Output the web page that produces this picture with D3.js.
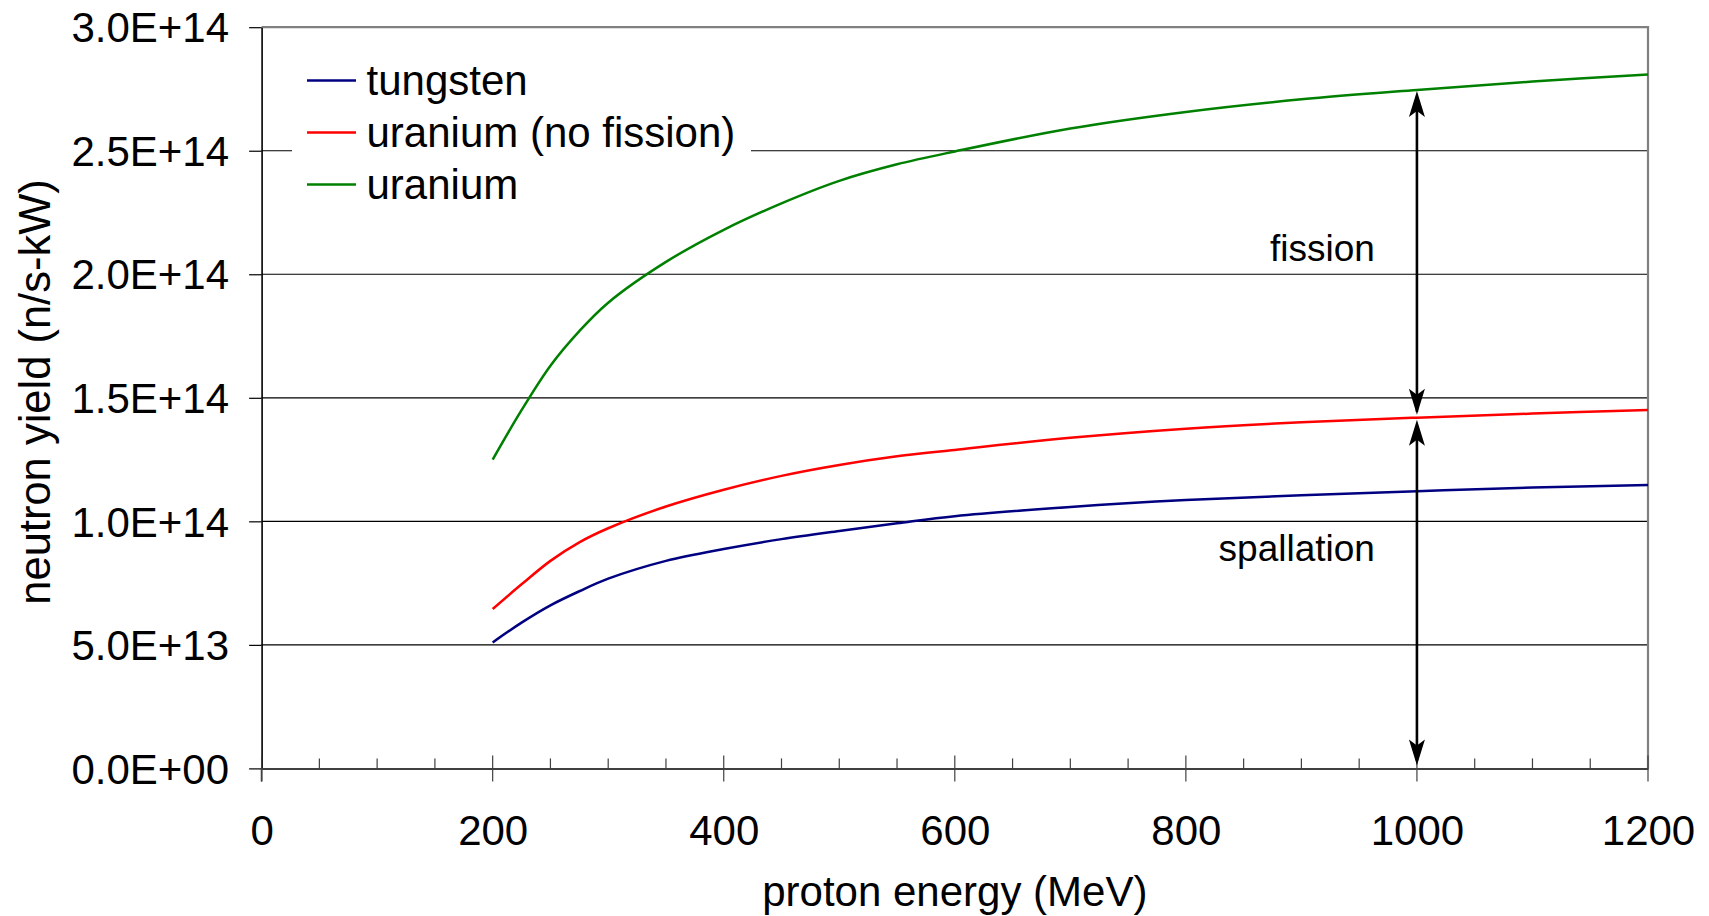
<!DOCTYPE html>
<html>
<head>
<meta charset="utf-8">
<script src="https://cdn.jsdelivr.net/npm/d3@7/dist/d3.min.js"></script>
<style>
  html, body { margin: 0; padding: 0; background: #fff; }
  svg { display: block; font-family: "Liberation Sans", Arial, sans-serif; }
</style>
</head>
<body>
<svg id="chart" width="1709" height="916"></svg>
<script>
// ---- data ----
const energies = [200, 225, 250, 275, 300, 350, 400, 450, 500, 550, 600, 700, 800, 900, 1000, 1100, 1200];
const tungsten = [0.510, 0.590, 0.660, 0.717, 0.768, 0.840, 0.888, 0.928, 0.961, 0.992, 1.021, 1.058, 1.086, 1.106, 1.122, 1.137, 1.147].map(v => v * 1e14);
const uraniumNoFission = [0.645, 0.745, 0.840, 0.915, 0.972, 1.060, 1.128, 1.184, 1.228, 1.263, 1.289, 1.338, 1.375, 1.401, 1.4195, 1.436, 1.451].map(v => v * 1e14);
const uranium = [1.250, 1.450, 1.630, 1.770, 1.885, 2.050, 2.180, 2.287, 2.378, 2.445, 2.497, 2.590, 2.657, 2.708, 2.746, 2.780, 2.809].map(v => v * 1e14);
const seriesNames = ["tungsten", "uranium (no fission)", "uranium"];
const seriesColors = ["#000080", "#FF0000", "#008000"];
const xTicks = [0, 200, 400, 600, 800, 1000, 1200];
const xMinorTicks = d3.range(0, 1201, 50);
const yTicks = [0, 5e13, 1e14, 1.5e14, 2e14, 2.5e14, 3e14];
const yTickLabels = ["0.0E+00", "5.0E+13", "1.0E+14", "1.5E+14", "2.0E+14", "2.5E+14", "3.0E+14"];
const arrowEnergy = 1000;
const annotations = ["fission", "spallation"];
const xTitle = "proton energy (MeV)";
const yTitle = "neutron yield (n/s-kW)";

// ---- layout ----
const svg = d3.select("#chart");
const L = 261.6, R = 1648, T = 27.2, B = 768.4;
const x = d3.scaleLinear().domain([0, 1200]).range([L, R]);
const y = d3.scaleLinear().domain([0, 3e14]).range([B, T]);

// gridlines
svg.append("g").selectAll("line").data(yTicks.slice(1, -1)).join("line")
  .attr("x1", L).attr("x2", R).attr("y1", d => y(d)).attr("y2", d => y(d))
  .attr("stroke", "#000").attr("stroke-width", 1.2);

// plot border (top and right, grey)
svg.append("path")
  .attr("d", `M${L},${y(3e14)}H${R}V${B}`)
  .attr("fill", "none").attr("stroke", "#808080").attr("stroke-width", 2.2);

// y axis
const yAxis = d3.axisLeft(y).tickValues(yTicks).tickSize(12.5).tickSizeOuter(0)
  .tickFormat((d, i) => yTickLabels[i]);
const gy = svg.append("g").attr("transform", `translate(${L},0)`).call(yAxis);
gy.select(".domain").attr("stroke", "#000").attr("stroke-width", 1.6);
gy.selectAll(".tick line").attr("stroke", "#000").attr("stroke-width", 1.2);
gy.selectAll(".tick text").attr("font-size", 42).attr("fill", "#000")
  .attr("x", -32.5).attr("dy", "0.35em").attr("font-family", "Liberation Sans, Arial, sans-serif");
// left axis extension below x axis
svg.append("line").attr("x1", L).attr("x2", L).attr("y1", B).attr("y2", B + 13)
  .attr("stroke", "#000").attr("stroke-width", 1.6);

// x axis minor ticks (inside, upward)
svg.append("g").selectAll("line").data(xMinorTicks.filter(d => d % 200 !== 0)).join("line")
  .attr("x1", d => x(d)).attr("x2", d => x(d)).attr("y1", B).attr("y2", B - 10)
  .attr("stroke", "#404040").attr("stroke-width", 1.2);
// x axis major ticks (cross)
svg.append("g").selectAll("line").data(xTicks).join("line")
  .attr("x1", d => x(d)).attr("x2", d => x(d)).attr("y1", B - 13).attr("y2", B + 13)
  .attr("stroke", "#404040").attr("stroke-width", 1.2);
const xAxis = d3.axisBottom(x).tickValues(xTicks).tickSize(0).tickSizeOuter(0).tickFormat(d3.format("d"));
const gx = svg.append("g").attr("transform", `translate(0,${B})`).call(xAxis);
gx.select(".domain").attr("stroke", "#404040").attr("stroke-width", 2);
gx.selectAll(".tick text").attr("font-size", 42).attr("fill", "#000")
  .attr("y", 0).attr("dy", 0).attr("transform", "translate(0,77)")
  .attr("font-family", "Liberation Sans, Arial, sans-serif");

// series lines
const seriesData = [tungsten, uraniumNoFission, uranium];
const line = d3.line().x(d => x(d[0])).y(d => y(d[1])).curve(d3.curveCatmullRom.alpha(0.5));
seriesData.forEach((vals, i) => {
  svg.append("path")
    .datum(energies.map((e, j) => [e, vals[j]]))
    .attr("d", line)
    .attr("fill", "none")
    .attr("stroke", seriesColors[i])
    .attr("stroke-width", 2.5)
    .attr("stroke-linejoin", "round");
});

// legend
const lg = svg.append("g");
lg.append("rect").attr("x", 292).attr("y", 52).attr("width", 459).attr("height", 160).attr("fill", "#fff");
seriesNames.forEach((name, i) => {
  const ly = 80.5 + i * 52;
  lg.append("line").attr("x1", 307).attr("x2", 356).attr("y1", ly).attr("y2", ly)
    .attr("stroke", seriesColors[i]).attr("stroke-width", 2.3);
  lg.append("text").attr("x", 366.5).attr("y", ly).attr("dy", "0.35em")
    .attr("font-size", 42).attr("fill", "#000").text(name);
});

// arrows
const ax = x(arrowEnergy);
const idx = energies.indexOf(arrowEnergy);
const yTop = y(uranium[idx]), yMid = y(uraniumNoFission[idx]), yBot = y(0);
function arrowHead(tipY, dir) { // dir: +1 pointing down, -1 pointing up
  const len = 26, half = 8, notch = 20;
  return `M${ax},${tipY} L${ax - half},${tipY - dir * len} L${ax},${tipY - dir * notch} L${ax + half},${tipY - dir * len} Z`;
}
const ag = svg.append("g");
ag.append("line").attr("x1", ax).attr("x2", ax).attr("y1", yTop + 10).attr("y2", yMid - 6)
  .attr("stroke", "#000").attr("stroke-width", 2.6);
ag.append("line").attr("x1", ax).attr("x2", ax).attr("y1", yMid + 10).attr("y2", yBot - 8)
  .attr("stroke", "#000").attr("stroke-width", 2.6);
ag.append("path").attr("d", arrowHead(yTop + 1, -1)).attr("fill", "#000");
ag.append("path").attr("d", arrowHead(yMid - 3, 1)).attr("fill", "#000");
ag.append("path").attr("d", arrowHead(yMid + 2, -1)).attr("fill", "#000");
ag.append("path").attr("d", arrowHead(yBot - 3, 1)).attr("fill", "#000");

// annotation texts
svg.append("text").attr("x", ax - 42).attr("y", 261).attr("text-anchor", "end")
  .attr("font-size", 37).attr("fill", "#000").text(annotations[0]);
svg.append("text").attr("x", ax - 42).attr("y", 561).attr("text-anchor", "end")
  .attr("font-size", 37).attr("fill", "#000").text(annotations[1]);

// axis titles
svg.append("text").attr("x", (L + R) / 2).attr("y", 906).attr("text-anchor", "middle")
  .attr("font-size", 42).attr("fill", "#000").text(xTitle);
svg.append("text").attr("transform", "translate(50,392) rotate(-90)").attr("text-anchor", "middle")
  .attr("font-size", 43.5).attr("fill", "#000").text(yTitle);
</script>
</body>
</html>
